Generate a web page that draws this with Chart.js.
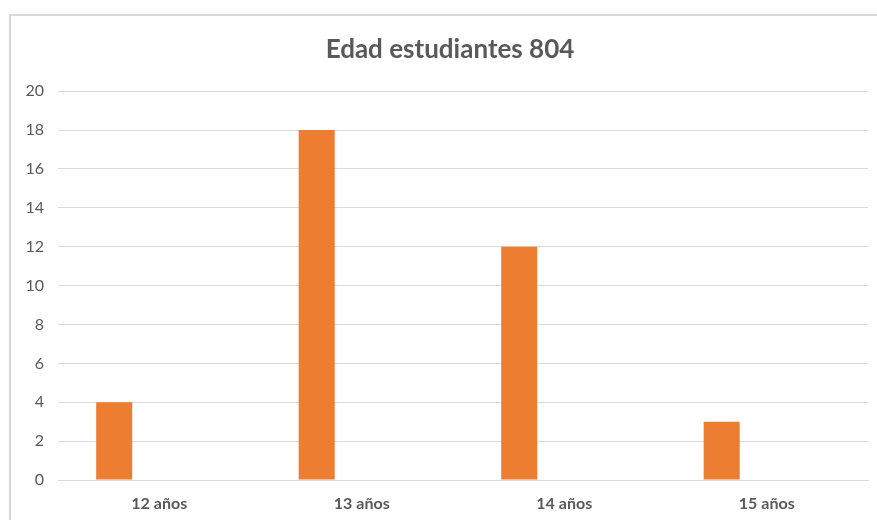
<!DOCTYPE html>
<html>
<head>
<meta charset="utf-8">
<script src="https://cdn.jsdelivr.net/npm/chart.js@4"></script>
<style>
  html, body { margin: 0; padding: 0; background: #fff; overflow: hidden; }
  #marco { position: absolute; left: 9px; top: 14px; width: 900px; height: 540px; border: 2px solid #d9d9d9; }
  #wrap { position: absolute; left: 0; top: 0; width: 877px; height: 520px; }
</style>
</head>
<body>
<div id="marco"></div>
<div id="wrap"><canvas id="grafico1"></canvas></div>
<script>
const categorias = ["12 años", "13 años", "14 años", "15 años"];
const cantidades = [4, 18, 12, 3];
const serieVacia = [null, null, null, null];
const titulo = "Edad estudiantes 804";

// el titulo va centrado sobre el marco, no sobre el canvas
const moverTitulo = {
  id: "moverTitulo",
  afterLayout(chart) {
    if (chart.titleBlock) chart.titleBlock.left += 32;
  },
};

const ctx = document.getElementById("grafico1").getContext("2d");
new Chart(ctx, {
  type: "bar",
  data: {
    labels: categorias,
    datasets: [
      {
        label: "Estudiantes",
        data: cantidades,
        backgroundColor: "#ED7D31",
        borderWidth: 0,
        categoryPercentage: 0.89,
        barPercentage: 0.4,
      },
      {
        label: "Serie 2",
        data: serieVacia,
        backgroundColor: "#A5A5A5",
        categoryPercentage: 0.89,
        barPercentage: 0.4,
      },
    ],
  },
  plugins: [moverTitulo],
  options: {
    responsive: true,
    maintainAspectRatio: false,
    animation: false,
    layout: { padding: { left: 0, right: 9, top: 0, bottom: 0 } },
    plugins: {
      legend: { display: false },
      tooltip: { enabled: false },
      title: {
        display: true,
        text: titulo,
        color: "#595959",
        font: { family: "Lato", size: 26, weight: "bold" },
        padding: { top: 34, bottom: 26 },
      },
    },
    scales: {
      x: {
        grid: { display: false },
        border: { display: true, color: "#d9d9d9", width: 1 },
        ticks: {
          color: "#595959",
          font: { family: "Lato", size: 16, weight: "bold" },
          padding: 6,
        },
        afterFit: (scale) => { scale.height = 40; },
      },
      y: {
        min: 0,
        max: 20,
        beginAtZero: true,
        border: { display: false },
        grid: { color: "#d9d9d9", lineWidth: 1, drawTicks: false },
        ticks: {
          stepSize: 2,
          color: "#595959",
          font: { family: "Lato", size: 16 },
          padding: 14,
        },
        afterFit: (scale) => { scale.width = 58; },
      },
    },
  },
});
</script>
</body>
</html>
